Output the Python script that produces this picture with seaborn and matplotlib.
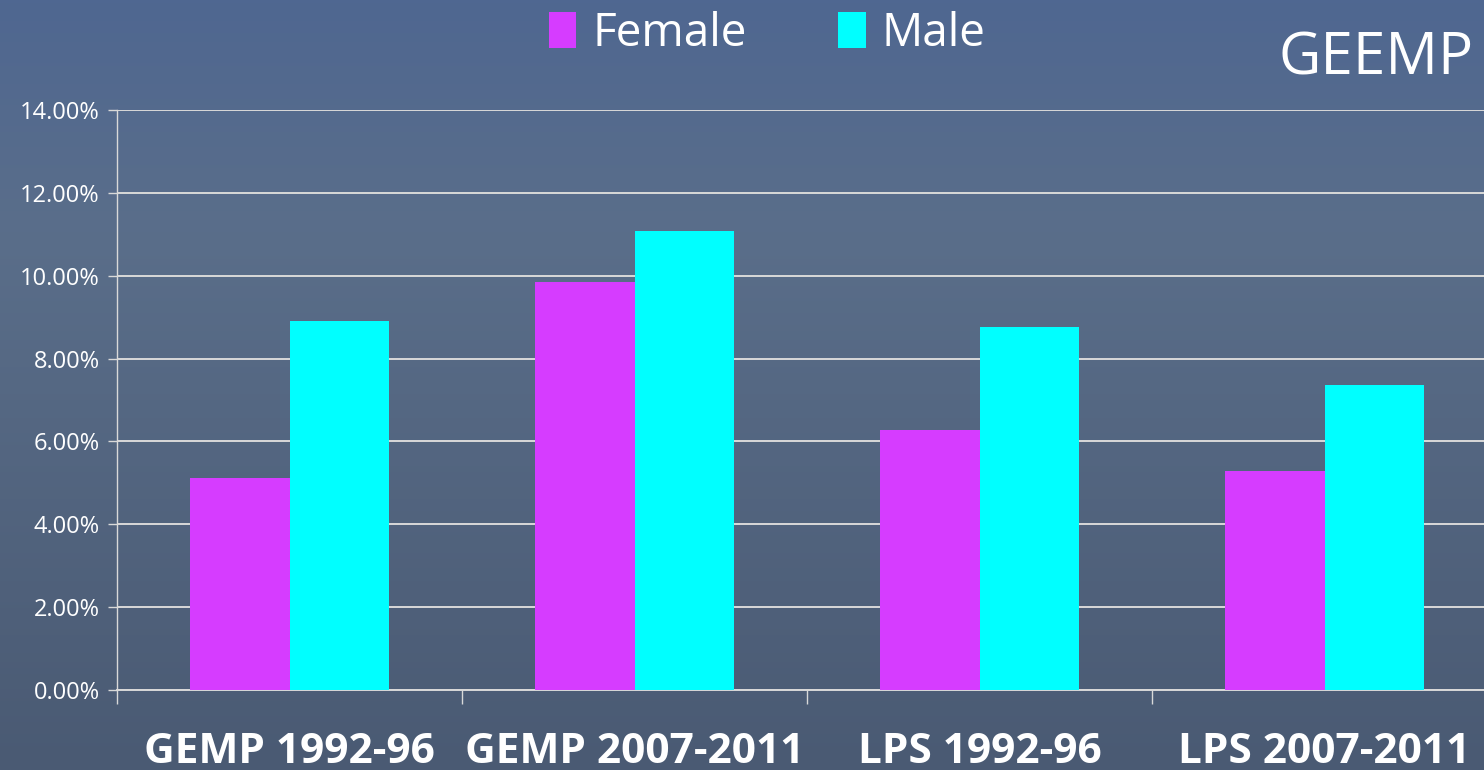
import matplotlib
matplotlib.use("Agg")
import matplotlib.pyplot as plt
from matplotlib.colors import LinearSegmentedColormap
from matplotlib.patches import Patch
import numpy as np
import pandas as pd
import seaborn as sns

# datos
grupos = ["GEMP 1992-96", "GEMP 2007-2011", "LPS 1992-96", "LPS 2007-2011"]
female = [5.12, 9.85, 6.28, 5.29]
male = [8.91, 11.08, 8.76, 7.36]
series = ["Female", "Male"]
colores = ["#d63cff", "#00ffff"]
y_ticks = [0, 2, 4, 6, 8, 10, 12, 14]

df = pd.DataFrame({"grupo": grupos * 2,
                   "sexo": ["Female"] * 4 + ["Male"] * 4,
                   "valor": female + male})

sns.set_theme(style="white")
plt.rcParams["font.family"] = ["Open Sans", "DejaVu Sans"]

fig = plt.figure(figsize=(14.84, 7.7), dpi=100)

# fondo degradado tipo diapositiva
fondo = fig.add_axes([0, 0, 1, 1], zorder=-1)
cmap = LinearSegmentedColormap.from_list(
    "fondo", [(0, "#4f6791"), (0.3, "#5a6e8a"), (1, "#4a5a73")])
fondo.imshow(np.linspace(0, 1, 256).reshape(-1, 1), aspect="auto", cmap=cmap,
             extent=[0, 1, 0, 1])
fondo.axis("off")

ax = fig.add_axes([117 / 1484, 80 / 770, 1380 / 1484, 580 / 770])
ax.set_facecolor("none")
sns.barplot(data=df, x="grupo", y="valor", hue="sexo", hue_order=series,
            palette=colores, width=0.574, gap=0, saturation=1,
            linewidth=0, legend=False, ax=ax, zorder=3)

ax.set_ylim(0, 14)
ax.set_xlim(-0.5, 3.5)
ax.set_yticks(y_ticks)
ax.set_yticklabels([f"{v:.2f}%" for v in y_ticks], fontsize=17, color="white")
ax.yaxis.grid(True, color="#d9d9d9", linewidth=1.4, zorder=0)
ax.set_axisbelow(True)

# ticks mayores entre categorias, etiquetas en las menores
ax.set_xticks([-0.5, 0.5, 1.5, 2.5])
ax.set_xticklabels([])
ax.set_xticks(range(len(grupos)), minor=True)
ax.set_xticklabels(grupos, minor=True, fontsize=30.5, fontweight="bold", color="white")
ax.tick_params(axis="x", which="major", length=10, width=1, color="#d9d9d9", bottom=True)
ax.tick_params(axis="x", which="minor", length=0, pad=30)
ax.tick_params(axis="y", length=6.5, width=1, color="#d9d9d9", left=True, pad=6)
ax.set_xlabel("")
ax.set_ylabel("")

for lado in ["top", "right"]:
    ax.spines[lado].set_visible(False)
ax.spines["left"].set_color("#d9d9d9")
ax.spines["left"].set_linewidth(1)
ax.spines["bottom"].set_color("#d9d9d9")
ax.spines["bottom"].set_linewidth(1.4)

handles = [Patch(facecolor=c, edgecolor="none") for c in colores]
fig.legend(handles, series, loc="center", bbox_to_anchor=(767 / 1484, 1 - 34 / 770),
           ncol=2, frameon=False, fontsize=33, labelcolor="white",
           handlelength=0.6, handleheight=0.85, handletextpad=0.35, columnspacing=2.0)

fig.text(1474 / 1484, 1 - 59 / 770, "GEEMP", ha="right", va="center",
         fontsize=42, color="white")

fig.savefig("out.png", dpi=100)
